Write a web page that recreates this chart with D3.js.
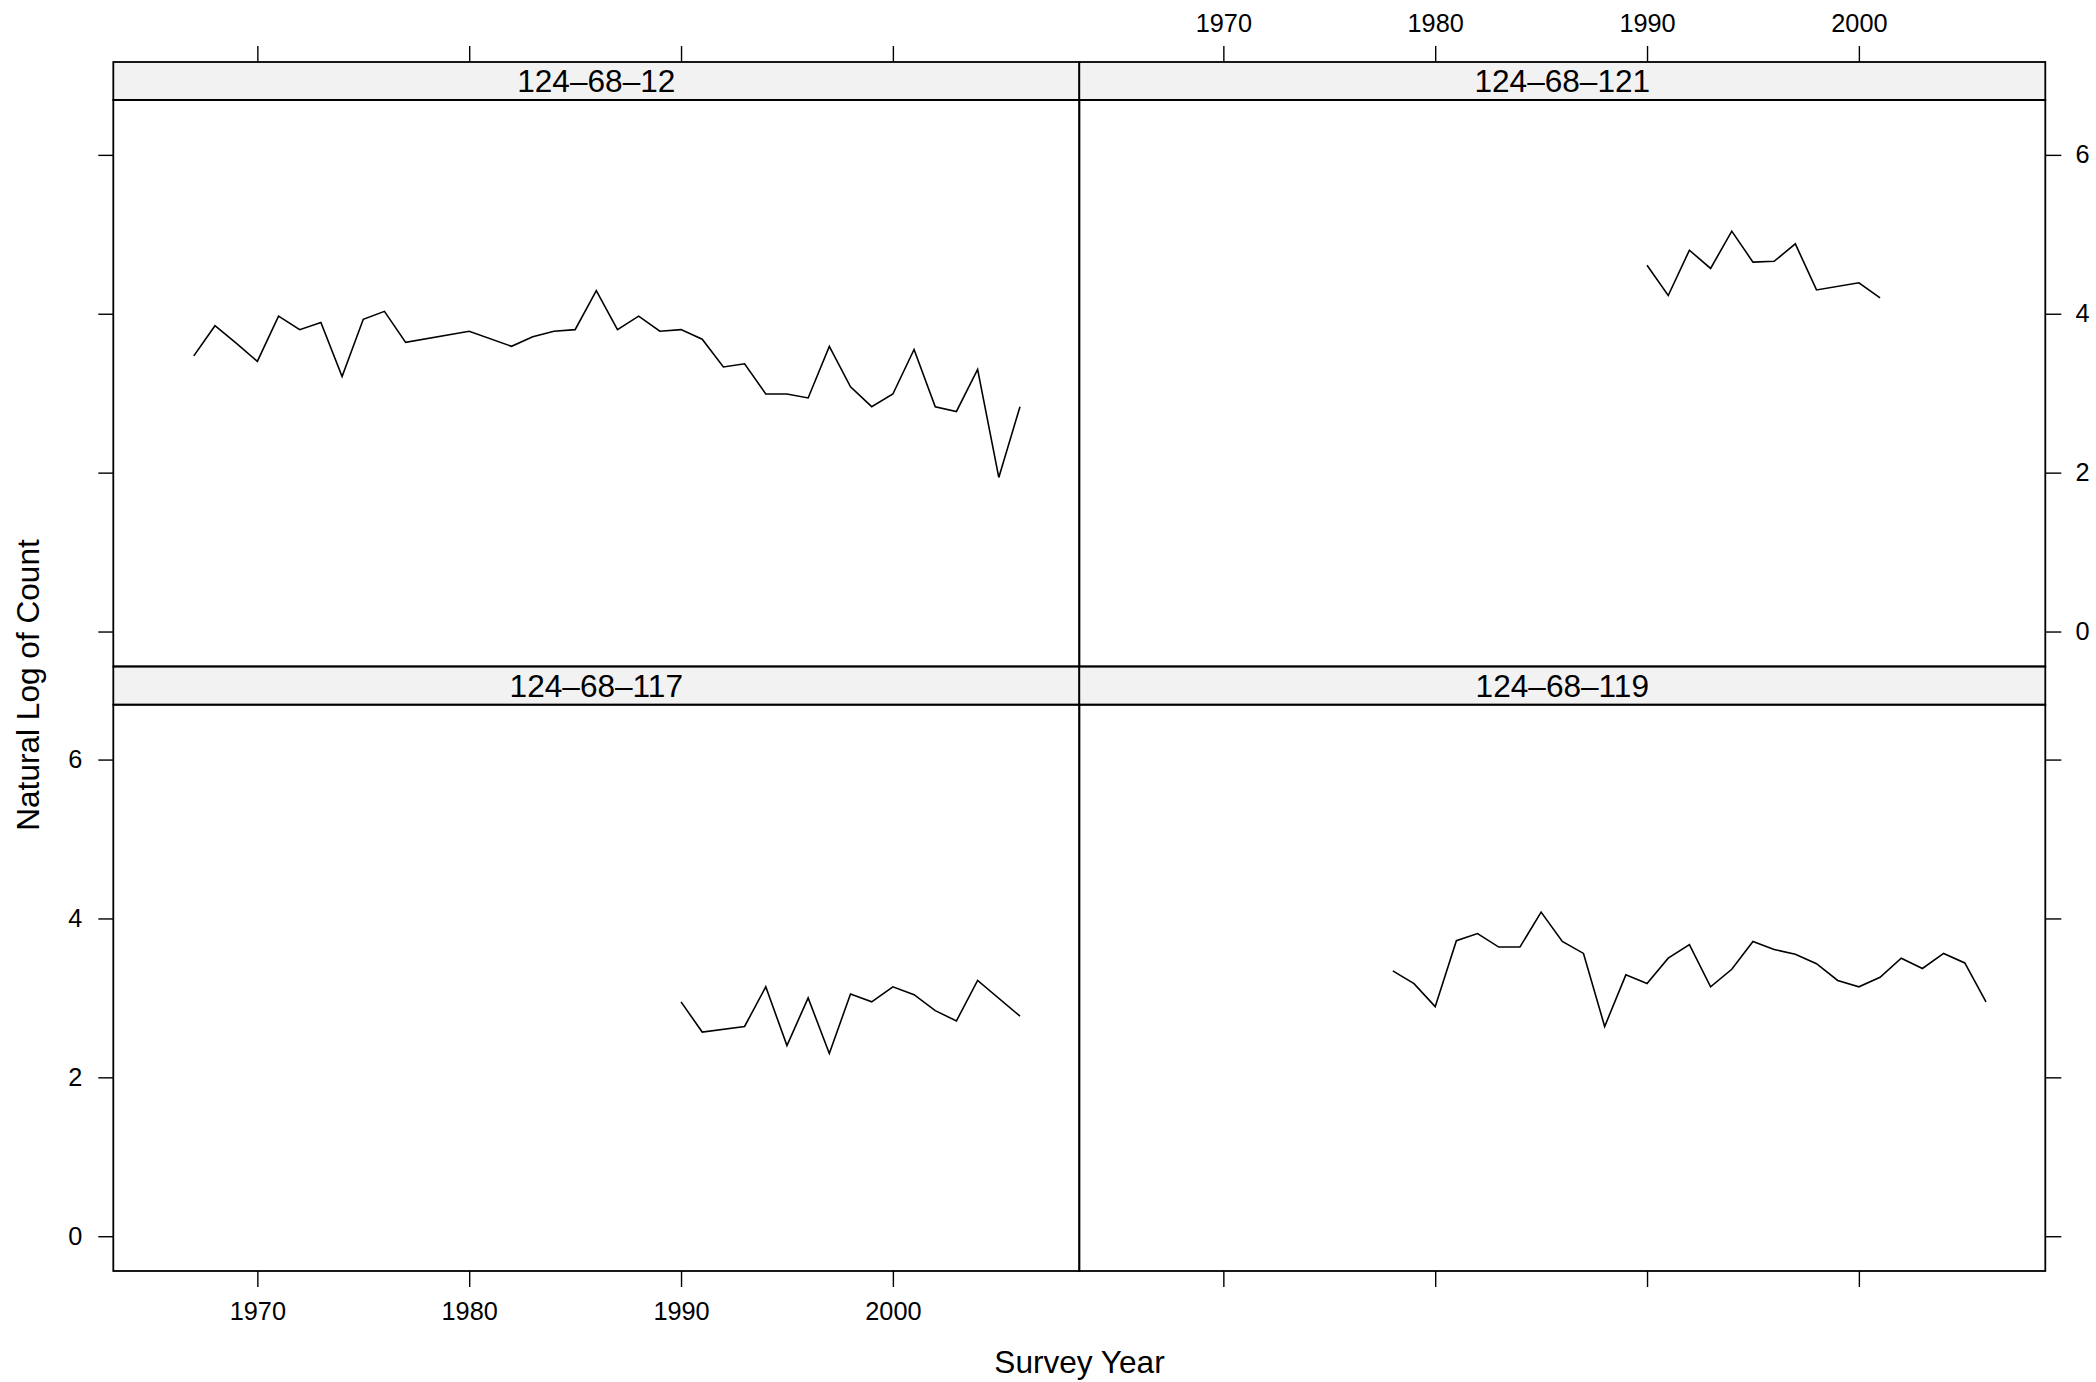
<!DOCTYPE html>
<html>
<head>
<meta charset="utf-8">
<script src="https://cdn.jsdelivr.net/npm/d3@7"></script>
<style>
  html, body { margin: 0; padding: 0; background: #ffffff; }
  svg { display: block; }
  text { font-family: "Liberation Sans", Arial, Helvetica, sans-serif; fill: #000; }
</style>
</head>
<body>
<svg id="chart" width="2096" height="1382"></svg>
<script>
// ---- Data ----
const panelNames = ["124\u201368\u201312", "124\u201368\u2013121", "124\u201368\u2013117", "124\u201368\u2013119"];

const years12 = [1967,1968,1969,1970,1971,1972,1973,1974,1975,1976,1977,1980,1982,1983,1984,1985,1986,1987,1988,1989,1990,1991,1992,1993,1994,1995,1996,1997,1998,1999,2000,2001,2002,2003,2004,2005,2006];
const values12 = [3.47,3.85,3.63,3.40,3.97,3.80,3.89,3.21,3.93,4.03,3.64,3.78,3.59,3.71,3.78,3.80,4.29,3.80,3.97,3.78,3.80,3.68,3.33,3.37,2.99,2.99,2.94,3.59,3.08,2.83,2.99,3.55,2.83,2.77,3.30,1.94,2.83];

const years121 = [1990,1991,1992,1993,1994,1995,1996,1997,1998,2000,2001];
const values121 = [4.61,4.23,4.80,4.57,5.04,4.65,4.66,4.88,4.30,4.39,4.20];

const years117 = [1990,1991,1993,1994,1995,1996,1997,1998,1999,2000,2001,2002,2003,2004,2006];
const values117 = [2.95,2.57,2.64,3.14,2.40,3.00,2.30,3.05,2.95,3.14,3.04,2.84,2.71,3.22,2.77];

const years119 = [1978,1979,1980,1981,1982,1983,1984,1985,1986,1987,1988,1989,1990,1991,1992,1993,1994,1995,1996,1997,1998,1999,2000,2001,2002,2003,2004,2005,2006];
const values119 = [3.34,3.18,2.89,3.72,3.81,3.64,3.64,4.08,3.71,3.56,2.64,3.29,3.18,3.50,3.67,3.14,3.36,3.71,3.61,3.55,3.43,3.22,3.14,3.26,3.50,3.37,3.56,3.44,2.95];

const xTicks = [1970, 1980, 1990, 2000];
const yTicks = [0, 2, 4, 6];
const xTitle = "Survey Year";
const yTitle = "Natural Log of Count";

// ---- Layout ----
const svg = d3.select("#chart");
const colX = [113.3, 1079.3];
const panelW = 966;
const rowTop = [62, 666.7];
const stripH = 38;
const dataH = 566.3;
const axisFont = 25.3;
const titleFont = 31.6;

const x = d3.scaleLinear().domain([1963.2, 2008.8]).range([0, panelW]);
const y = d3.scaleLinear().domain([-0.4377, 6.6907]).range([dataH, 0]);

const panels = [
  { name: panelNames[0], years: years12,  values: values12,  col: 0, row: 0 },
  { name: panelNames[1], years: years121, values: values121, col: 1, row: 0 },
  { name: panelNames[2], years: years117, values: values117, col: 0, row: 1 },
  { name: panelNames[3], years: years119, values: values119, col: 1, row: 1 }
];

const line = d3.line().x(d => x(d[0])).y(d => y(d[1]));

function styleAxis(g) {
  g.select(".domain").remove();
  g.selectAll(".tick line").attr("stroke", "#000").attr("stroke-width", 1.4);
  g.selectAll(".tick text").attr("font-size", axisFont)
    .attr("font-family", '"Liberation Sans", Arial, sans-serif').attr("fill", "#000");
}

panels.forEach(p => {
  const px = colX[p.col];
  const py = rowTop[p.row];
  const g = svg.append("g").attr("transform", `translate(${px},${py})`);

  // strip
  g.append("rect").attr("x", 0).attr("y", 0).attr("width", panelW).attr("height", stripH)
    .attr("fill", "#f2f2f2").attr("stroke", "#000").attr("stroke-width", 1.8);
  g.append("text").attr("x", panelW / 2).attr("y", stripH / 2 + 11.3)
    .attr("text-anchor", "middle").attr("font-size", titleFont).text(p.name);

  // data area
  const d = g.append("g").attr("transform", `translate(0,${stripH})`);
  d.append("rect").attr("width", panelW).attr("height", dataH)
    .attr("fill", "none").attr("stroke", "#000").attr("stroke-width", 1.8);
  const pts = p.years.map((yr, i) => [yr, p.values[i]]);
  d.append("path").datum(pts).attr("d", line)
    .attr("fill", "none").attr("stroke", "#000").attr("stroke-width", 1.6)
    .attr("stroke-linejoin", "miter");

  // top axis (above strip)
  if (p.row === 0) {
    const ax = d3.axisTop(x).tickValues(xTicks).tickSize(16).tickSizeOuter(0).tickPadding(13.7)
      .tickFormat(p.col === 1 ? d3.format("d") : () => "");
    g.append("g").call(ax).call(styleAxis);
  }
  // bottom axis
  if (p.row === 1) {
    const ax = d3.axisBottom(x).tickValues(xTicks).tickSize(16).tickSizeOuter(0).tickPadding(15.3)
      .tickFormat(p.col === 0 ? d3.format("d") : () => "");
    d.append("g").attr("transform", `translate(0,${dataH})`).call(ax).call(styleAxis);
  }
  // left axis
  if (p.col === 0) {
    const ax = d3.axisLeft(y).tickValues(yTicks).tickSize(15).tickSizeOuter(0).tickPadding(16)
      .tickFormat(p.row === 1 ? d3.format("d") : () => "");
    d.append("g").call(ax).call(styleAxis);
  }
  // right axis
  if (p.col === 1) {
    const ax = d3.axisRight(y).tickValues(yTicks).tickSize(16).tickSizeOuter(0).tickPadding(14.3)
      .tickFormat(p.row === 0 ? d3.format("d") : () => "");
    d.append("g").attr("transform", `translate(${panelW},0)`).call(ax).call(styleAxis);
  }
});

// axis titles
svg.append("text").attr("x", 1079.5).attr("y", 1372.7).attr("text-anchor", "middle")
  .attr("font-size", titleFont).text(xTitle);
svg.append("text").attr("transform", "translate(39,685) rotate(-90)").attr("text-anchor", "middle")
  .attr("font-size", titleFont).text(yTitle);
</script>
</body>
</html>
